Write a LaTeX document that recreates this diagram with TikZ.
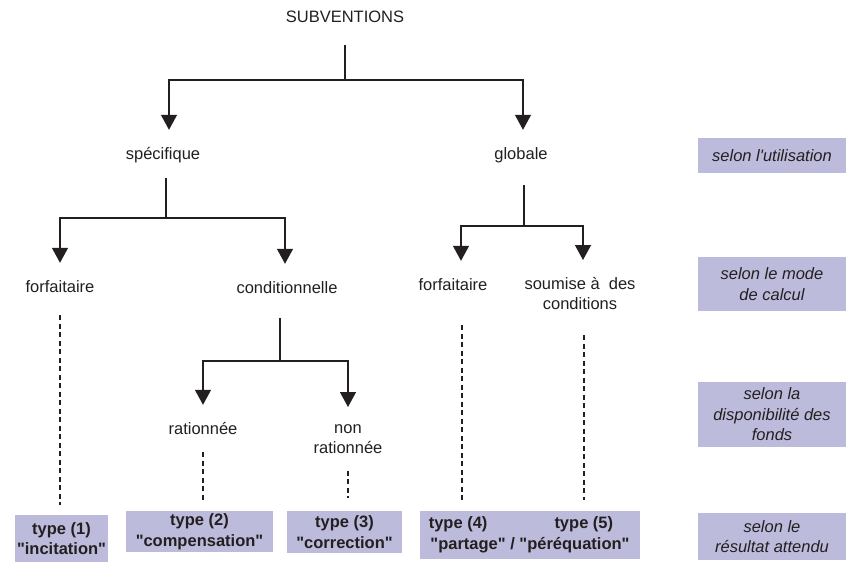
\documentclass[tikz,border=0pt]{standalone}
\usepackage{fontspec}
\setmainfont{Liberation Sans}
\usetikzlibrary{arrows.meta}
\definecolor{mauve}{RGB}{189,187,219}
\definecolor{ink}{RGB}{35,31,32}

\begin{document}
\begin{tikzpicture}[x=1pt, y=-1pt,
        every node/.style={font=\fontsize{16.5}{20.5}\selectfont, text=ink},
        lbl/.style={inner sep=0pt, text height=12pt, text depth=4pt},
        lbltwo/.style={inner sep=0pt, align=center, anchor=north},
        link/.style={draw=ink, line width=1.3pt},
        arr/.style={link, -{Triangle[length=15pt, width=16pt]}, shorten >=17pt},
        dashln/.style={draw=ink, line width=1.1pt, dash pattern=on 5pt off 3.5pt},
        typebox/.style={fill=mauve, align=center, inner sep=0pt, font=\fontsize{16.5}{20.5}\selectfont\bfseries},
        critbox/.style={fill=mauve, align=center, inner sep=0pt, minimum width=148pt, font=\fontsize{16.5}{20.5}\selectfont\itshape}]
        \useasboundingbox (0,0) rectangle (846,562);

        \node[lbl] (sub) at (345,18) {SUBVENTIONS};
        \node[lbl] (spec) at (163,155) {spécifique};
        \node[lbl] (glob) at (521,155) {globale};
        \node[lbl] (forfA) at (60,288) {forfaitaire};
        \node[lbl] (cond) at (287,289) {conditionnelle};
        \node[lbl] (forfB) at (453,286) {forfaitaire};
        \node[lbltwo] (soum) at (580,277) {soumise à\ \ des\\conditions};
        \node[lbl] (rat) at (203,430) {rationnée};
        \node[lbltwo] (nonrat) at (348,424) {non\\rationnée};

        \node[typebox, minimum width=93pt, minimum height=47pt] (t1) at (61.5,538.5) {type (1)\\\textquotedbl incitation\textquotedbl};
        \node[typebox, minimum width=147pt, minimum height=41pt] (t2) at (199.5,531.5) {type (2)\\\textquotedbl compensation\textquotedbl};
        \node[typebox, minimum width=115pt, minimum height=42pt] (t3) at (344.5,532) {type (3)\\\textquotedbl correction\textquotedbl};
        \node[typebox, minimum width=220pt, minimum height=48pt] (t4) at (530,535) {type (4)\hspace{67pt}type (5)\rule{18pt}{0pt}\\\textquotedbl partage\textquotedbl{} / \textquotedbl péréquation\textquotedbl};

        \node[critbox, minimum height=35pt] (c1) at (772,155.5) {selon l\textquotesingle utilisation};
        \node[critbox, minimum height=54pt] (c2) at (772,284) {selon le mode\\de calcul};
        \node[critbox, minimum height=65pt] (c3) at (772,414.5) {selon la\\disponibilité des\\fonds};
        \node[critbox, minimum height=47pt] (c4) at (772,536.5) {selon le\\résultat attendu};

        \coordinate (j0) at (345,80);
        \coordinate (j1) at (166,218);
        \coordinate (j2) at (524,226);
        \coordinate (j3) at (280,361);

        \draw[link, shorten <=19pt] (sub) -- (j0);
        \draw[arr] (j0) -| ([xshift=6pt]spec.north);
        \draw[arr] (j0) -| ([xshift=2pt]glob.north);

        \draw[link, shorten <=15pt] (j1 |- spec.south) -- (j1);
        \draw[arr] (j1) -| (forfA.north);
        \draw[arr] (j1) -| ([xshift=-2pt]cond.north);

        \draw[link, shorten <=22pt] (j2 |- glob.south) -- (j2);
        \draw[arr] (j2) -| ([xshift=8pt]forfB.north);
        \draw[arr] (j2) -| ([xshift=3pt]soum.north);

        \draw[link, shorten <=21pt] (j3 |- cond.south) -- (j3);
        \draw[arr] (j3) -| (rat.north);
        \draw[arr] (j3) -| (nonrat.north);

        \draw[dashln, shorten <=19pt, shorten >=10pt] (forfA.south) -- (forfA.south |- t1.north);
        \draw[dashln, shorten <=14pt, shorten >=11pt] (rat.south) -- (rat.south |- t2.north);
        \draw[dashln, shorten <=17pt, shorten >=13pt] (nonrat.south) -- (nonrat.south |- t3.north);
        \draw[dashln, shorten <=31pt, shorten >=9pt] ([xshift=9pt]forfB.south) -- ([xshift=9pt]forfB.south |- t4.north);
        \draw[dashln, shorten <=25pt, shorten >=11pt] ([xshift=4pt]soum.south) -- ([xshift=4pt]soum.south |- t4.north);
    \end{tikzpicture}
\end{document}
